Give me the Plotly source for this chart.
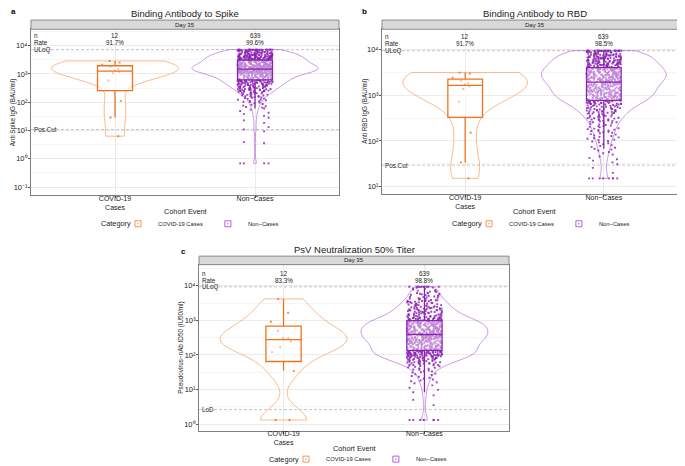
import plotly.graph_objects as go

# ---------------- data (log10 of the measured values) ----------------
CATS = ["COVID-19 Cases", "Non\u2212Cases"]
TICK_TEXT = ["COVID-19<br>Cases", "Non\u2212Cases"]
N_LABELS = ["12", "639"]

spike_rates = ["91.7%", "99.6%"]
rbd_rates = ["91.7%", "98.5%"]
nab_rates = ["83.3%", "98.8%"]

SUP = {"-": "\u207b", "0": "\u2070", "1": "\u00b9", "2": "\u00b2", "3": "\u00b3", "4": "\u2074"}

spike_cases = [0.80, 1.46, 2.05, 2.77, 3.03, 3.08, 3.12, 3.18, 3.25, 3.33, 3.40, 3.46]
rbd_cases = [1.18, 1.53, 2.18, 2.86, 3.14, 3.20, 3.24, 3.27, 3.32, 3.39, 3.48, 3.50]
nab_cases = [0.12, 0.12, 1.54, 2.08, 2.22, 2.39, 2.49, 2.49, 2.70, 2.96, 3.22, 3.62]

spike_noncases = [
    -0.16, -0.16, -0.16, -0.16, 0.55, 0.59, 0.97,
    1.04, 1.12, 1.27, 1.36, 1.45, 1.52, 1.58, 1.63, 1.69, 1.74, 1.78,
    1.81, 1.83, 1.86, 1.88, 1.91, 1.94, 1.96, 1.99,
    2.01, 2.02, 2.04, 2.05, 2.07, 2.09, 2.10, 2.12, 2.13, 2.15, 2.16, 2.17, 2.18, 2.19,
    2.20, 2.21, 2.22, 2.23, 2.24, 2.25, 2.26, 2.27, 2.28, 2.29, 2.30, 2.31, 2.31, 2.32, 2.33, 2.34,
    2.35, 2.35, 2.36, 2.37, 2.37, 2.38, 2.39, 2.39,
    2.40, 2.40, 2.41, 2.41, 2.42, 2.42, 2.43, 2.43, 2.44, 2.44, 2.45, 2.45, 2.46, 2.46, 2.47, 2.47,
    2.48, 2.48, 2.49, 2.49,
    2.50, 2.50, 2.51, 2.51, 2.52, 2.52, 2.53, 2.53, 2.54, 2.54, 2.55, 2.55, 2.56, 2.56, 2.57, 2.57,
    2.58, 2.58, 2.59, 2.59,
    2.60, 2.60, 2.61, 2.61, 2.61, 2.62, 2.62, 2.63, 2.63, 2.63, 2.64, 2.64, 2.65, 2.65, 2.65, 2.66,
    2.66, 2.67, 2.67, 2.68, 2.68, 2.69, 2.69, 2.69,
    2.70, 2.70, 2.70, 2.71, 2.71, 2.71, 2.72, 2.72, 2.72, 2.73, 2.73, 2.73, 2.74, 2.74, 2.74, 2.75,
    2.75, 2.75, 2.76, 2.76, 2.76, 2.77, 2.77, 2.77, 2.78, 2.78, 2.78, 2.79, 2.79, 2.79, 2.79, 2.79,
    2.80, 2.80, 2.80, 2.81, 2.81, 2.81, 2.82, 2.82, 2.82, 2.83, 2.83, 2.83, 2.84, 2.84, 2.84,
    2.85, 2.85, 2.85, 2.86, 2.86, 2.86, 2.87, 2.87, 2.87, 2.88, 2.88, 2.88, 2.89, 2.89, 2.89,
    2.90, 2.90, 2.90, 2.91, 2.91, 2.91, 2.92, 2.92, 2.92, 2.93, 2.93, 2.93, 2.94, 2.94, 2.94,
    2.95, 2.95, 2.95, 2.96, 2.96, 2.96, 2.97, 2.97, 2.97, 2.98, 2.98, 2.98, 2.99, 2.99, 2.99,
    3.00, 3.00, 3.00, 3.00, 3.00, 3.01, 3.01, 3.01, 3.01, 3.01, 3.02, 3.02, 3.02, 3.02, 3.02,
    3.03, 3.03, 3.03, 3.03, 3.03, 3.04, 3.04, 3.04, 3.04, 3.04, 3.05, 3.05, 3.05, 3.05, 3.05, 3.05,
    3.06, 3.06, 3.06, 3.06, 3.06, 3.07, 3.07, 3.07, 3.07, 3.07, 3.07, 3.08, 3.08, 3.08, 3.08, 3.08,
    3.09, 3.09, 3.09, 3.09, 3.09, 3.09, 3.10, 3.10, 3.10, 3.10, 3.10, 3.11, 3.11, 3.11, 3.11, 3.11,
    3.11, 3.12, 3.12, 3.12, 3.12, 3.12, 3.12, 3.13, 3.13, 3.13, 3.13, 3.13, 3.13, 3.14, 3.14, 3.14,
    3.14, 3.14, 3.14, 3.15, 3.15, 3.15, 3.15, 3.15, 3.15, 3.16, 3.16, 3.16, 3.16, 3.16, 3.16,
    3.17, 3.17, 3.17, 3.17, 3.17, 3.17,
    3.18, 3.18, 3.18, 3.18, 3.18, 3.18, 3.19, 3.19, 3.19, 3.19, 3.19, 3.19,
    3.20, 3.20, 3.20, 3.20, 3.20, 3.20, 3.21, 3.21, 3.21, 3.21, 3.21, 3.21,
    3.22, 3.22, 3.22, 3.22, 3.22, 3.22, 3.23, 3.23, 3.23, 3.23, 3.23, 3.23,
    3.24, 3.24, 3.24, 3.24, 3.24, 3.24, 3.25, 3.25, 3.25, 3.25, 3.25, 3.25,
    3.26, 3.26, 3.26, 3.26, 3.26, 3.26, 3.27, 3.27, 3.27, 3.27, 3.27, 3.27,
    3.28, 3.28, 3.28, 3.28, 3.28, 3.28, 3.29, 3.29, 3.29, 3.29, 3.29, 3.29,
    3.30, 3.30, 3.30, 3.30, 3.30, 3.30, 3.31, 3.31, 3.31, 3.31, 3.31, 3.31,
    3.32, 3.32, 3.32, 3.32, 3.32, 3.32, 3.33, 3.33, 3.33, 3.33, 3.33, 3.33,
    3.34, 3.34, 3.34, 3.34, 3.35, 3.35, 3.35, 3.35, 3.36, 3.36, 3.36, 3.36, 3.37, 3.37, 3.37, 3.37,
    3.38, 3.38, 3.38, 3.38, 3.39, 3.39, 3.39, 3.39, 3.40, 3.40, 3.40, 3.40, 3.41, 3.41, 3.41, 3.41,
    3.42, 3.42, 3.42, 3.42, 3.43, 3.43, 3.43, 3.43, 3.44, 3.44, 3.44, 3.44, 3.45, 3.45, 3.45, 3.45,
    3.46, 3.46, 3.46, 3.46, 3.47, 3.47, 3.47, 3.47, 3.48, 3.48, 3.48, 3.48, 3.49, 3.49, 3.49, 3.49,
    3.50, 3.50, 3.50, 3.50, 3.50, 3.51, 3.51, 3.51, 3.51, 3.51, 3.52, 3.52, 3.52, 3.52, 3.52,
    3.53, 3.53, 3.53, 3.53, 3.53, 3.54, 3.54, 3.54, 3.54, 3.54, 3.55, 3.55, 3.55, 3.55, 3.55,
    3.56, 3.56, 3.56, 3.56, 3.56, 3.57, 3.57, 3.57, 3.57, 3.57, 3.58, 3.58, 3.58, 3.58, 3.58,
    3.59, 3.59, 3.59, 3.59, 3.59,
    3.60, 3.60, 3.60, 3.60, 3.61, 3.61, 3.61, 3.61, 3.62, 3.62, 3.62, 3.62, 3.63, 3.63, 3.63, 3.63,
    3.64, 3.64, 3.64, 3.64, 3.65, 3.65, 3.65, 3.65, 3.66, 3.66, 3.66, 3.66, 3.67, 3.67, 3.67, 3.67,
    3.68, 3.68, 3.68, 3.68, 3.69, 3.69, 3.69, 3.69,
    3.70, 3.70, 3.70, 3.71, 3.71, 3.71, 3.72, 3.72, 3.72, 3.73, 3.73, 3.73, 3.74, 3.74, 3.74,
    3.75, 3.75, 3.75, 3.76, 3.76, 3.76, 3.77, 3.77, 3.77, 3.78, 3.78, 3.78, 3.79, 3.79, 3.79,
    3.80, 3.80, 3.80, 3.81, 3.81, 3.81, 3.82, 3.82, 3.82, 3.83, 3.83, 3.83, 3.84, 3.84, 3.84,
    3.85, 3.85, 3.85,
    3.86, 3.86, 3.86, 3.86, 3.86, 3.86, 3.86, 3.86, 3.86, 3.86, 3.86,
    3.86, 3.86, 3.86, 3.86, 3.86, 3.86, 3.86, 3.86, 3.86, 3.86,
]

rbd_noncases = [
    1.18, 1.18, 1.18, 1.18, 1.18, 1.18, 1.18, 1.18, 1.30, 1.41,
    1.49, 1.53, 1.57, 1.60, 1.63, 1.66, 1.70, 1.73, 1.76, 1.79,
    1.81, 1.83, 1.85, 1.87, 1.89, 1.91, 1.93, 1.95, 1.97, 1.99,
    2.00, 2.02, 2.03, 2.05, 2.06, 2.08, 2.09, 2.11, 2.12, 2.14, 2.15, 2.17, 2.18, 2.19,
    2.20, 2.21, 2.22, 2.23, 2.24, 2.25, 2.26, 2.27, 2.28, 2.30, 2.31, 2.32, 2.33, 2.34, 2.35, 2.36,
    2.37, 2.39,
    2.40, 2.41, 2.41, 2.42, 2.43, 2.44, 2.44, 2.45, 2.46, 2.47, 2.47, 2.48, 2.49, 2.50, 2.50, 2.51,
    2.52, 2.52, 2.53, 2.54, 2.54, 2.55, 2.56, 2.56, 2.57, 2.58, 2.58, 2.59,
    2.60, 2.60, 2.61, 2.61, 2.62, 2.62, 2.63, 2.63, 2.64, 2.64, 2.65, 2.65, 2.66, 2.66, 2.67, 2.67,
    2.68, 2.68, 2.69, 2.69, 2.70, 2.70, 2.71, 2.71, 2.72, 2.72, 2.73, 2.73, 2.74, 2.74, 2.75, 2.75,
    2.76, 2.76, 2.77, 2.77, 2.78, 2.78, 2.79, 2.79,
    2.80, 2.80, 2.80, 2.81, 2.81, 2.81, 2.82, 2.82, 2.82, 2.83, 2.83, 2.83, 2.84, 2.84, 2.84,
    2.85, 2.85, 2.85, 2.86, 2.86, 2.86, 2.87, 2.87, 2.87, 2.88, 2.88, 2.88, 2.89, 2.89, 2.89,
    2.90, 2.90, 2.90, 2.90, 2.91, 2.91, 2.91, 2.91, 2.92, 2.92, 2.92, 2.92, 2.93, 2.93, 2.93, 2.93,
    2.94, 2.94, 2.94, 2.94, 2.95, 2.95, 2.95, 2.95, 2.96, 2.96, 2.96, 2.96, 2.97, 2.97, 2.97, 2.97,
    2.98, 2.98, 2.98, 2.98, 2.99, 2.99, 2.99, 2.99, 3.00, 3.00, 3.00, 3.00, 3.01, 3.01, 3.01, 3.01,
    3.02, 3.02, 3.02, 3.02, 3.03, 3.03, 3.03, 3.03, 3.04, 3.04, 3.04, 3.04, 3.05, 3.05, 3.05, 3.05,
    3.06, 3.06, 3.06, 3.06, 3.07, 3.07, 3.07, 3.07, 3.08, 3.08, 3.08, 3.08, 3.09, 3.09, 3.09, 3.09,
    3.10, 3.10, 3.10, 3.10, 3.11, 3.11, 3.11, 3.11, 3.12, 3.12, 3.12, 3.12, 3.13, 3.13, 3.13, 3.13,
    3.14, 3.14, 3.14, 3.14, 3.15, 3.15, 3.15, 3.15, 3.16, 3.16, 3.16, 3.16, 3.17, 3.17, 3.17, 3.17,
    3.18, 3.18, 3.18, 3.18, 3.19, 3.19, 3.19, 3.19, 3.20, 3.20, 3.20, 3.20, 3.21, 3.21, 3.21, 3.21,
    3.22, 3.22, 3.22, 3.22, 3.23, 3.23, 3.23, 3.23, 3.24, 3.24, 3.24, 3.24, 3.25, 3.25, 3.25, 3.25,
    3.26, 3.26, 3.26, 3.26, 3.27, 3.27, 3.27, 3.27, 3.28, 3.28, 3.28, 3.28, 3.29, 3.29, 3.29, 3.29,
    3.30, 3.30, 3.30, 3.30, 3.30, 3.31, 3.31, 3.31, 3.31, 3.31, 3.32, 3.32, 3.32, 3.32, 3.32,
    3.33, 3.33, 3.33, 3.33, 3.33, 3.34, 3.34, 3.34, 3.34, 3.34, 3.35, 3.35, 3.35, 3.35, 3.35,
    3.36, 3.36, 3.36, 3.36, 3.36, 3.37, 3.37, 3.37, 3.37, 3.37, 3.38, 3.38, 3.38, 3.38, 3.38,
    3.39, 3.39, 3.39, 3.39, 3.39, 3.40, 3.40, 3.40, 3.40, 3.40, 3.41, 3.41, 3.41, 3.41, 3.41,
    3.42, 3.42, 3.42, 3.42, 3.42, 3.43, 3.43, 3.43, 3.43, 3.43, 3.44, 3.44, 3.44, 3.44, 3.44,
    3.45, 3.45, 3.45, 3.45, 3.45,
    3.46, 3.46, 3.46, 3.46, 3.46, 3.47, 3.47, 3.47, 3.47, 3.47, 3.48, 3.48, 3.48, 3.48, 3.48,
    3.49, 3.49, 3.49, 3.49, 3.49, 3.50, 3.50, 3.50, 3.50, 3.50, 3.51, 3.51, 3.51, 3.51, 3.51,
    3.52, 3.52, 3.52, 3.52, 3.52, 3.53, 3.53, 3.53, 3.53, 3.53, 3.54, 3.54, 3.54, 3.54, 3.54,
    3.55, 3.55, 3.55, 3.55, 3.55, 3.56, 3.56, 3.56, 3.56, 3.56, 3.57, 3.57, 3.57, 3.57, 3.57,
    3.58, 3.58, 3.58, 3.58, 3.58, 3.59, 3.59, 3.59, 3.59, 3.59, 3.60, 3.60, 3.60, 3.60, 3.60,
    3.61, 3.61, 3.61, 3.61, 3.61,
    3.62, 3.62, 3.62, 3.62, 3.63, 3.63, 3.63, 3.63, 3.64, 3.64, 3.64, 3.64, 3.65, 3.65, 3.65, 3.65,
    3.66, 3.66, 3.66, 3.66, 3.67, 3.67, 3.67, 3.67, 3.68, 3.68, 3.68, 3.68, 3.69, 3.69, 3.69, 3.69,
    3.70, 3.70, 3.70, 3.70, 3.71, 3.71, 3.71, 3.71, 3.72, 3.72, 3.72, 3.72, 3.73, 3.73, 3.73, 3.73,
    3.74, 3.74, 3.74, 3.74,
    3.75, 3.75, 3.75, 3.75, 3.76, 3.76, 3.76, 3.76, 3.77, 3.77, 3.77, 3.77, 3.78, 3.78, 3.78, 3.78,
    3.79, 3.79, 3.79, 3.79, 3.80, 3.80, 3.80, 3.80, 3.81, 3.81, 3.81, 3.81, 3.82, 3.82, 3.82, 3.82,
    3.83, 3.83, 3.83, 3.83, 3.84, 3.84, 3.84, 3.84, 3.85, 3.85, 3.85, 3.85, 3.86, 3.86, 3.86, 3.86,
    3.87, 3.87, 3.87, 3.87, 3.88, 3.88, 3.88, 3.88, 3.89, 3.89, 3.89, 3.89,
    3.90, 3.90, 3.90, 3.91, 3.91, 3.91, 3.92, 3.92, 3.92, 3.93, 3.93, 3.93, 3.94, 3.94, 3.94,
    3.95, 3.95, 3.95, 3.96, 3.96, 3.96, 3.97, 3.97, 3.97,
    3.98, 3.98, 3.98, 3.98, 3.98, 3.98, 3.98, 3.98, 3.98, 3.98, 3.98, 3.98,
    3.98, 3.98, 3.98, 3.98, 3.98, 3.98, 3.98, 3.98, 3.98, 3.98, 3.98,
]

nab_noncases = [
    0.12, 0.12, 0.12, 0.12, 0.12, 0.12, 0.12, 0.55, 0.70, 0.83,
    0.92, 0.99, 1.05, 1.12, 1.18,
    1.21, 1.24, 1.26, 1.29, 1.31, 1.34, 1.37, 1.39, 1.42, 1.44, 1.46, 1.49,
    1.50, 1.52, 1.53, 1.55, 1.57, 1.58, 1.60, 1.61, 1.63, 1.64, 1.66, 1.67, 1.68, 1.69,
    1.70, 1.71, 1.71, 1.72, 1.73, 1.73, 1.74, 1.75, 1.75, 1.76, 1.76, 1.77, 1.78, 1.78, 1.79, 1.79,
    1.80, 1.80, 1.81, 1.81, 1.82, 1.82, 1.83, 1.83, 1.84, 1.84, 1.85, 1.85, 1.86, 1.86, 1.87, 1.87,
    1.88, 1.88, 1.89, 1.89,
    1.90, 1.90, 1.91, 1.91, 1.91, 1.92, 1.92, 1.92, 1.93, 1.93, 1.94, 1.94, 1.94, 1.95, 1.95, 1.95,
    1.96, 1.96, 1.96, 1.97, 1.97, 1.97, 1.98, 1.98, 1.98, 1.99, 1.99, 1.99,
    2.00, 2.00, 2.00, 2.00, 2.01, 2.01, 2.01, 2.01, 2.02, 2.02, 2.02, 2.02, 2.03, 2.03, 2.03, 2.03,
    2.04, 2.04, 2.04, 2.04, 2.05, 2.05, 2.05, 2.05, 2.06, 2.06, 2.06, 2.06, 2.07, 2.07, 2.07, 2.07,
    2.08, 2.08, 2.08, 2.08, 2.09, 2.09, 2.09, 2.09, 2.10, 2.10, 2.10, 2.10, 2.11, 2.11, 2.11, 2.11,
    2.12, 2.12, 2.12, 2.12, 2.13, 2.13, 2.13,
    2.14, 2.14, 2.14, 2.15, 2.15, 2.15, 2.16, 2.16, 2.16, 2.17, 2.17, 2.17, 2.18, 2.18, 2.18,
    2.19, 2.19, 2.19, 2.20, 2.20, 2.20, 2.21, 2.21, 2.21, 2.22, 2.22, 2.22, 2.23, 2.23, 2.23,
    2.24, 2.24, 2.24, 2.25, 2.25, 2.25, 2.26, 2.26, 2.26, 2.27, 2.27, 2.27, 2.28, 2.28, 2.28,
    2.29, 2.29, 2.29, 2.30, 2.30, 2.30, 2.31, 2.31, 2.31, 2.32, 2.32, 2.32, 2.33, 2.33, 2.33,
    2.34, 2.34, 2.34, 2.35, 2.35, 2.35, 2.36, 2.36, 2.36, 2.37, 2.37, 2.37,
    2.38, 2.38, 2.38, 2.38, 2.39, 2.39, 2.39, 2.39, 2.40, 2.40, 2.40, 2.40, 2.41, 2.41, 2.41, 2.41,
    2.42, 2.42, 2.42, 2.42, 2.43, 2.43, 2.43, 2.43, 2.44, 2.44, 2.44, 2.44, 2.45, 2.45, 2.45, 2.45,
    2.46, 2.46, 2.46, 2.46, 2.47, 2.47, 2.47, 2.47, 2.48, 2.48, 2.48, 2.48, 2.49, 2.49, 2.49, 2.49,
    2.50, 2.50, 2.50, 2.50, 2.51, 2.51, 2.51, 2.51, 2.52, 2.52, 2.52, 2.52, 2.53, 2.53, 2.53, 2.53,
    2.54, 2.54, 2.54, 2.54, 2.55, 2.55, 2.55, 2.55, 2.56, 2.56, 2.56, 2.56, 2.57, 2.57, 2.57, 2.57,
    2.58, 2.58, 2.58, 2.58, 2.59, 2.59, 2.59, 2.59,
    2.60, 2.60, 2.60, 2.60, 2.61, 2.61, 2.61, 2.61, 2.62, 2.62, 2.62, 2.62, 2.63, 2.63, 2.63, 2.63,
    2.64, 2.64, 2.64, 2.64, 2.65, 2.65, 2.65, 2.65, 2.66, 2.66, 2.66, 2.66, 2.67, 2.67, 2.67, 2.67,
    2.68, 2.68, 2.68, 2.68, 2.69, 2.69, 2.69, 2.69, 2.70, 2.70, 2.70, 2.70, 2.71, 2.71, 2.71, 2.71,
    2.72, 2.72, 2.72, 2.72, 2.73, 2.73, 2.73, 2.73, 2.74, 2.74, 2.74, 2.74, 2.75, 2.75, 2.75, 2.75,
    2.76, 2.76, 2.76, 2.76, 2.77, 2.77, 2.77, 2.77, 2.78, 2.78, 2.78, 2.78, 2.79, 2.79, 2.79, 2.79,
    2.80, 2.80, 2.80, 2.80, 2.81, 2.81, 2.81, 2.81, 2.82, 2.82, 2.82, 2.82, 2.83, 2.83, 2.83, 2.83,
    2.84, 2.84, 2.84, 2.84, 2.85, 2.85, 2.85, 2.85, 2.86, 2.86, 2.86, 2.86, 2.87, 2.87, 2.87, 2.87,
    2.88, 2.88, 2.88, 2.88, 2.89, 2.89, 2.89, 2.89, 2.90, 2.90, 2.90, 2.90, 2.91, 2.91, 2.91, 2.91,
    2.92, 2.92, 2.92, 2.92, 2.93, 2.93, 2.93, 2.93, 2.94, 2.94, 2.94, 2.94, 2.95, 2.95, 2.95, 2.95,
    2.96, 2.96, 2.96, 2.96, 2.97, 2.97, 2.97, 2.97, 2.98, 2.98, 2.98, 2.98, 2.99, 2.99, 2.99, 2.99,
    3.00, 3.00, 3.00, 3.01, 3.01, 3.01, 3.02, 3.02, 3.02, 3.03, 3.03, 3.03, 3.04, 3.04, 3.04,
    3.05, 3.05, 3.05, 3.06, 3.06, 3.06, 3.07, 3.07, 3.07, 3.08, 3.08, 3.08, 3.09, 3.09, 3.09,
    3.10, 3.10, 3.11, 3.11, 3.12, 3.12, 3.13, 3.13, 3.14, 3.14, 3.15, 3.15, 3.16, 3.16, 3.17, 3.17,
    3.18, 3.18, 3.19, 3.19,
    3.20, 3.20, 3.21, 3.21, 3.22, 3.22, 3.23, 3.23, 3.24, 3.24, 3.25, 3.25, 3.26, 3.26, 3.27, 3.27,
    3.28, 3.28, 3.29, 3.29, 3.30, 3.30, 3.31, 3.31, 3.32, 3.32, 3.33, 3.33, 3.34, 3.34, 3.35, 3.35,
    3.36, 3.36, 3.37, 3.37, 3.38, 3.38, 3.39, 3.39,
    3.40, 3.41, 3.41, 3.42, 3.43, 3.44, 3.44, 3.45, 3.46, 3.47, 3.47, 3.48, 3.49, 3.50, 3.50, 3.51,
    3.52, 3.52, 3.53, 3.54, 3.54, 3.55, 3.56, 3.56, 3.57, 3.58, 3.58, 3.59,
    3.60, 3.61, 3.62, 3.63, 3.64, 3.65, 3.66, 3.67, 3.68, 3.69, 3.70, 3.71, 3.72, 3.73, 3.74, 3.75,
    3.76, 3.77, 3.78, 3.79,
    3.80, 3.82, 3.83, 3.85, 3.86, 3.88, 3.89, 3.91, 3.92, 3.94, 3.95, 3.96,
    3.97, 3.97, 3.97, 3.97, 3.97, 3.97, 3.97, 3.97, 3.97,
]

# reference lines (log10) and their labels
spike_uloq, spike_poscut = 3.86, 1.035
rbd_uloq, rbd_poscut = 3.98, 1.47
nab_uloq, nab_lod = 3.97, 0.42

# ---------------- styling / layout ----------------
W, H = 685, 466
FONT = "Liberation Sans, Arial, Helvetica, sans-serif"
TXT = "#1a1a1a"
GRID = "#EBEBEB"
MINOR = "#F5F5F5"
BORDER = "#808080"
BOX_COL = ["#F2721C", "#8A22B0"]
PT_COL = ["rgba(242,114,28,0.85)", "rgba(140,34,180,0.85)"]
VIO_COL = ["rgba(248,138,60,0.65)", "rgba(170,80,220,0.65)"]
LEG_COL = ["rgba(246,140,70,0.9)", "rgba(170,80,220,0.9)"]


def fx(px):
    return px / W


def fy(py):
    return 1 - py / H


def pow_label(k):
    return "10" + "".join(SUP[c] for c in str(k))


def split_tail(vals, thr, step=0.3):
    """Partition the values: the dense part, and the sparse lower tail in slices
    (so each slice of points gets the full jitter width)."""
    core = [v for v in vals if v >= thr]
    tail = [v for v in vals if v < thr]
    parts = [core]
    hi = thr
    while tail and hi > min(tail):
        lo = hi - step
        part = [v for v in tail if lo <= v < hi]
        if part:
            parts.append(part)
        hi = lo
    return parts


panels = [
    dict(letter="a", title="Binding Antibody to Spike", ytitle="Anti Spike IgG (BAU/ml)",
         cases=spike_cases, non=spike_noncases, rates=spike_rates,
         uloq=spike_uloq, cut=spike_poscut, cutlabel="Pos.Cut", tail_thr=2.4,
         dx=(23, 331), dy=(21.7, 191), strip_top=12.3, yr=(-1.29, 4.58),
         ticks=[-1, 0, 1, 2, 3, 4], lab_y=(4.37, 4.10), bw=(0.31, 0.13),
         letter_xy=(5, 4), title_y=6, ytitle_x=5, xtitle_y=208,
         cat_x=108, legend_x=110, legend_y=220),
    dict(letter="b", title="Binding Antibody to RBD", ytitle="Anti RBD IgG (BAU/ml)",
         cases=rbd_cases, non=rbd_noncases, rates=rbd_rates,
         uloq=rbd_uloq, cut=rbd_poscut, cutlabel="Pos.Cut", tail_thr=2.4,
         dx=(374, 679), dy=(21.7, 190), strip_top=12.3, yr=(0.83, 4.45),
         ticks=[1, 2, 3, 4], lab_y=(4.29, 4.13), bw=(0.36, 0.13),
         letter_xy=(356, 4), title_y=6, ytitle_x=357, xtitle_y=208,
         cat_x=459, legend_x=461, legend_y=220),
    dict(letter="c", title="PsV Neutralization 50% Titer", ytitle="Pseudovirus\u2212nAb ID50 (IU50/ml)",
         cases=nab_cases, non=nab_noncases, rates=nab_rates,
         uloq=nab_uloq, cut=nab_lod, cutlabel="LoD", tail_thr=1.7,
         dx=(191, 501), dy=(261.7, 431), strip_top=253, yr=(-0.19, 4.61),
         ticks=[0, 1, 2, 3, 4], lab_y=(4.35, 4.15), bw=(0.34, 0.16),
         letter_xy=(175, 248), title_y=246.7, ytitle_x=173, xtitle_y=449,
         cat_x=276, legend_x=278, legend_y=460),
]

fig = go.Figure()
annotations, shapes, lay = [], [], {}

for i, p in enumerate(panels):
    sfx = "" if i == 0 else str(i + 1)
    xa, ya, lg = "x" + sfx, "y" + sfx, "legend" + sfx
    groups = [p["cases"], p["non"]]

    # violins
    for j, vals in enumerate(groups):
        fig.add_trace(go.Violin(
            x=[CATS[j]] * len(vals), y=vals, xaxis=xa, yaxis=ya,
            width=0.9, scalemode="width", spanmode="hard", bandwidth=p["bw"][j],
            points=False, box_visible=False, meanline_visible=False,
            fillcolor="rgba(0,0,0,0)", line=dict(color=VIO_COL[j], width=0.9),
            showlegend=False, hoverinfo="skip"))
    # jittered points (non-cases split so the sparse tail keeps a full jitter width)
    for j, vals in enumerate(groups):
        parts = [vals] if j == 0 else split_tail(vals, p["tail_thr"])
        for part in parts:
            fig.add_trace(go.Box(
                x=[CATS[j]] * len(part), y=part, xaxis=xa, yaxis=ya,
                width=0.25, boxpoints="all", jitter=1, pointpos=0,
                fillcolor="rgba(0,0,0,0)", line=dict(color="rgba(0,0,0,0)", width=0),
                marker=dict(color=PT_COL[j], size=1.9, symbol="square"),
                showlegend=False, hoverinfo="skip"))
    # boxes on top
    for j, vals in enumerate(groups):
        fig.add_trace(go.Box(
            x=[CATS[j]] * len(vals), y=vals, xaxis=xa, yaxis=ya,
            width=0.25, boxpoints="outliers", marker=dict(opacity=0, size=1),
            fillcolor="rgba(255,255,255,0.45)", line=dict(color=BOX_COL[j], width=1.3),
            whiskerwidth=0, name=CATS[j], showlegend=False, hoverinfo="skip"))
    # legend keys (no data; legend entries only)
    for j in range(2):
        fig.add_trace(go.Scatter(
            x=[None], y=[None], xaxis=xa, yaxis=ya, mode="markers", name=CATS[j],
            marker=dict(symbol="square-open-dot", size=6, color=LEG_COL[j],
                        line=dict(width=1, color=LEG_COL[j])),
            legend=lg, showlegend=True, hoverinfo="skip"))

    x0, x1 = p["dx"]
    ytop, ybot = p["dy"]
    lay["xaxis" + sfx] = dict(
        domain=[fx(x0), fx(x1)], anchor=ya, type="category",
        categoryorder="array", categoryarray=CATS, range=[-0.6, 1.6],
        tickmode="array", tickvals=CATS, ticktext=TICK_TEXT,
        tickfont=dict(size=7, color=TXT), showgrid=True, gridcolor=GRID, gridwidth=0.8,
        showline=True, mirror=True, linecolor=BORDER, linewidth=0.9,
        ticks="outside", ticklen=2, tickcolor="#555", ticklabelstandoff=-6,
        zeroline=False, fixedrange=True)
    lay["yaxis" + sfx] = dict(
        domain=[fy(ybot), fy(ytop)], anchor=xa, range=list(p["yr"]),
        tickmode="array", tickvals=p["ticks"],
        ticktext=[pow_label(k) for k in p["ticks"]],
        tickfont=dict(size=7.5, color=TXT), showgrid=True, gridcolor=GRID, gridwidth=0.8,
        minor=dict(tickmode="linear", tick0=0.5, dtick=1, showgrid=True, gridcolor=MINOR,
                   gridwidth=0.6, ticks=""),
        showline=True, mirror=True, linecolor=BORDER, linewidth=0.9,
        ticks="outside", ticklen=2, tickcolor="#555", ticklabelstandoff=-1,
        zeroline=False, fixedrange=True)
    lay[lg] = dict(
        orientation="h", x=fx(p["legend_x"]), xanchor="left",
        y=fy(p["legend_y"]), yanchor="middle",
        font=dict(size=5.8, color=TXT), bgcolor="rgba(0,0,0,0)",
        itemwidth=30, itemsizing="trace", tracegroupgap=0)
    # legend heading
    annotations.append(dict(text="Category", xref="paper", yref="paper",
                            x=fx(p["cat_x"]), y=fy(p["legend_y"]), showarrow=False,
                            font=dict(size=7.3, color=TXT), xanchor="center", yanchor="middle"))

    # strip
    shapes.append(dict(type="rect", xref="paper", yref="paper",
                       x0=fx(x0), x1=fx(x1), y0=fy(ytop), y1=fy(p["strip_top"]),
                       fillcolor="#D9D9D9", line=dict(color=BORDER, width=0.9), layer="above"))
    annotations.append(dict(text="Day 35", xref="paper", yref="paper",
                            x=fx((x0 + x1) / 2), y=fy((ytop + p["strip_top"]) / 2),
                            showarrow=False, font=dict(size=6, color=TXT),
                            xanchor="center", yanchor="middle"))
    # dashed reference lines
    for v in (p["uloq"], p["cut"]):
        shapes.append(dict(type="line", xref=xa + " domain", yref=ya, x0=0, x1=1, y0=v, y1=v,
                           line=dict(color="#B5B5B5", width=0.8, dash="3px,2px"), layer="below"))
    # titles
    annotations.append(dict(text=p["title"], xref="paper", yref="paper",
                            x=fx((x0 + x1) / 2), y=fy(p["title_y"]), showarrow=False,
                            font=dict(size=9.5, color=TXT), xanchor="center", yanchor="middle"))
    annotations.append(dict(text="<b>%s</b>" % p["letter"], xref="paper", yref="paper",
                            x=fx(p["letter_xy"][0]), y=fy(p["letter_xy"][1]), showarrow=False,
                            font=dict(size=8, color="#000"), xanchor="center", yanchor="middle"))
    annotations.append(dict(text=p["ytitle"], xref="paper", yref="paper", textangle=-90,
                            x=fx(p["ytitle_x"]), y=fy((ytop + ybot) / 2), showarrow=False,
                            font=dict(size=6.3, color=TXT), xanchor="center", yanchor="middle"))
    annotations.append(dict(text="Cohort Event", xref="paper", yref="paper",
                            x=fx((x0 + x1) / 2), y=fy(p["xtitle_y"]), showarrow=False,
                            font=dict(size=7.3, color=TXT), xanchor="center", yanchor="middle"))
    # in-panel labels
    left_labels = [("n", p["lab_y"][0]), ("Rate", p["lab_y"][1]),
                   ("ULoQ", p["uloq"]), (p["cutlabel"], p["cut"])]
    for txt, yv in left_labels:
        annotations.append(dict(text=txt, xref=xa + " domain", yref=ya, x=0.003, y=yv,
                                showarrow=False, font=dict(size=6.3, color=TXT),
                                xanchor="left", yanchor="middle"))
    for j in range(2):
        annotations.append(dict(text=N_LABELS[j], xref=xa, yref=ya, x=CATS[j], y=p["lab_y"][0],
                                showarrow=False, font=dict(size=6.3, color=TXT),
                                xanchor="center", yanchor="middle"))
        annotations.append(dict(text=p["rates"][j], xref=xa, yref=ya, x=CATS[j], y=p["lab_y"][1],
                                showarrow=False, font=dict(size=6.3, color=TXT),
                                xanchor="center", yanchor="middle"))

fig.update_layout(
    width=W, height=H, margin=dict(l=0, r=0, t=0, b=0),
    paper_bgcolor="white", plot_bgcolor="white",
    font=dict(family=FONT, color=TXT),
    violinmode="overlay", boxmode="overlay",
    annotations=annotations, shapes=shapes, **lay)

fig.write_html("out.html")
